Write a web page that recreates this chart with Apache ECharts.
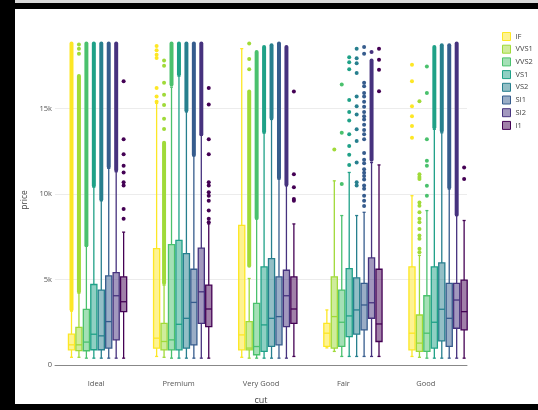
<!DOCTYPE html>
<html><head><meta charset="utf-8">
<script src="https://cdn.jsdelivr.net/npm/echarts@6/dist/echarts.min.js"></script>
<style>html,body{margin:0;padding:0;background:#fff}#c{width:538px;height:410px}</style>
</head><body><div id="c"></div>
<script>
const cuts = ['Ideal', 'Premium', 'Very Good', 'Fair', 'Good'];
const clarities = ['IF', 'VVS1', 'VVS2', 'VS1', 'VS2', 'SI1', 'SI2', 'I1'];
const colors = ['#fde725', '#a0da39', '#4ac16d', '#1fa187', '#277f8e', '#365c8d', '#46327e', '#440154'];
const yTicks = [0, 5000, 10000, 15000];

// box stats per clarity, rows in cut order: [lower whisker, q1, median, q3, upper whisker]
const boxIF   = [[450, 890, 1180, 1800, 3150], [500, 990, 1570, 6800, 15300], [450, 890, 1760, 8160, 18500], [1000, 1085, 1860, 2440, 3220], [500, 890, 1860, 5735, 9900]];
const boxVVS1 = [[450, 835, 1180, 2200, 4200], [450, 890, 1375, 2440, 4670], [400, 890, 990, 2540, 5060], [795, 988, 2830, 5155, 10770], [450, 795, 1280, 2925, 6410]];
const boxVVS2 = [[400, 833, 1340, 3255, 6950], [400, 890, 1470, 7035, 16250], [400, 600, 1080, 3600, 8550], [500, 1085, 2500, 4380, 8740], [400, 795, 1860, 4050, 9030]];
const boxVS1  = [[400, 891, 1800, 4709, 10400], [400, 890, 2380, 7290, 16890], [400, 795, 2345, 5735, 13560], [500, 1664, 2870, 5640, 11260], [400, 988, 2500, 5735, 13780]];
const boxVS2  = [[400, 891, 1705, 4380, 9600], [400, 988, 2730, 6510, 14800], [400, 1085, 2730, 6220, 14360], [500, 1800, 3220, 5100, 8740], [400, 1410, 3260, 5970, 13580]];
const boxSI1  = [[400, 988, 2538, 5213, 11500], [400, 1180, 3660, 5600, 12230], [400, 1180, 2830, 5155, 10870], [500, 2055, 3510, 4770, 8930], [400, 1085, 2730, 4770, 10290]];
const boxSI2  = [[400, 1473, 4050, 5407, 11300], [400, 2440, 4280, 6840, 13440], [400, 2250, 4050, 5540, 10480], [500, 2733, 3640, 6260, 11840], [400, 2150, 3800, 4770, 8740]];
const boxI1   = [[400, 3120, 3700, 5155, 7770], [400, 2249, 3275, 4670, 8250], [500, 2440, 3275, 5150, 8250], [500, 1375, 2400, 5600, 11700], [400, 2055, 3120, 4960, 8450]];

// dense runs of outliers: [cut index, from, to]
const runIF   = [[0, 3250, 18800]];
const runVVS1 = [[0, 4300, 16900], [1, 4800, 13000], [2, 5800, 16000]];
const runVVS2 = [[0, 7000, 18800], [1, 16400, 18800], [2, 8600, 18300]];
const runVS1  = [[0, 10500, 18800], [1, 17000, 18800], [2, 13650, 18600], [4, 13900, 18600]];
const runVS2  = [[0, 9700, 18800], [1, 14900, 18800], [2, 14450, 18700], [4, 13700, 18700]];
const runSI1  = [[0, 11600, 18800], [1, 12300, 18800], [2, 10950, 18800], [4, 10400, 18700]];
const runSI2  = [[0, 11400, 18800], [1, 13500, 18800], [2, 10550, 18600], [3, 12000, 17800], [4, 8800, 18800]];
const runI1   = [];

// single outliers: [cut index, price]
const dotIF   = [[1, 18650], [1, 18400], [1, 18150], [1, 17950], [1, 16200], [1, 15700], [1, 15400], [4, 17560], [4, 16590], [4, 15135], [4, 14550], [4, 13970], [4, 13290]];
const dotVVS1 = [[0, 18200], [0, 18500], [0, 18750], [1, 13800], [1, 14400], [1, 15200], [1, 15800], [1, 16500], [1, 17500], [1, 17800], [2, 18800], [2, 17900], [2, 17300], [3, 12600], [4, 15420], [4, 11160], [4, 11000], [4, 10870], [4, 9500], [4, 9320], [4, 8930], [4, 8550], [4, 8350], [4, 7960], [4, 7580], [4, 7380], [4, 6800], [4, 6600]];
const dotVVS2 = [[3, 16400], [3, 13580], [3, 10580], [4, 17460], [4, 15910], [4, 13200], [4, 11940], [4, 11650], [4, 10480], [4, 9900]];
const dotVS1  = [[3, 18000], [3, 17700], [3, 17300], [3, 15500], [3, 14800], [3, 14300], [3, 13500], [3, 12800], [3, 12300], [3, 11700]];
const dotVS2  = [[3, 18500], [3, 17940], [3, 17650], [3, 17070], [3, 15700], [3, 15130], [3, 14650], [3, 13780], [3, 13100], [3, 11840], [3, 10680], [3, 10490]];
const dotSI1  = [[3, 18600], [3, 18200], [3, 16500], [3, 16300], [3, 15900], [3, 15700], [3, 15400], [3, 15100], [3, 14800], [3, 14550], [3, 14350], [3, 14050], [3, 13750], [3, 13500], [3, 13200], [3, 12400], [3, 12000], [3, 11800], [3, 11450], [3, 11250], [3, 11050], [3, 10850], [3, 10500], [3, 10300], [3, 9900], [3, 9600], [3, 9300]];
const dotSI2  = [[3, 18300]];
const dotI1   = [[0, 16590], [0, 13200], [0, 12325], [0, 11650], [0, 11260], [0, 10680], [0, 10490], [0, 9130], [0, 8550], [1, 16200], [1, 15230], [1, 13200], [1, 12330], [1, 10680], [1, 10490], [1, 10100], [1, 9900], [1, 9610], [1, 9030], [1, 8550], [1, 8350], [2, 16000], [2, 11160], [2, 10390], [2, 9710], [2, 9610], [3, 18500], [3, 17850], [3, 17270], [3, 16010], [4, 11550], [4, 10870]];

const boxes = [boxIF, boxVVS1, boxVVS2, boxVS1, boxVS2, boxSI1, boxSI2, boxI1];
const runs = [runIF, runVVS1, runVVS2, runVS1, runVS2, runSI1, runSI2, runI1];
const dots = [dotIF, dotVVS1, dotVVS2, dotVS1, dotVS2, dotSI1, dotSI2, dotI1];

function rgba(hex, a) {
  const n = parseInt(hex.slice(1), 16);
  return 'rgba(' + (n >> 16) + ',' + ((n >> 8) & 255) + ',' + (n & 255) + ',' + a + ')';
}
const NS = clarities.length;
// boxes sit on a hidden numeric x axis (one unit per cut), as the groups in the reference are spaced slightly wider than the category labels
function slotX(api, cat, k) {
  const unit = api.size([1, 0])[0];
  const slot = unit * 0.7 / NS;
  return { cx: api.coord([cat, 0])[0] + (k - (NS - 1) / 2) * slot, w: slot * 0.82 };
}
const R = 2;

const series = [];
clarities.forEach((name, k) => {
  const col = colors[k];
  series.push({
    type: 'custom', name: name, xAxisIndex: 1,
    data: boxes[k].map((r, i) => [i].concat(r)),
    encode: { x: 0, y: [1, 2, 3, 4, 5] },
    renderItem: function (params, api) {
      const cat = api.value(0);
      const p = slotX(api, cat, k);
      const cx = p.cx, w = p.w;
      const y = [1, 2, 3, 4, 5].map(d => api.coord([cat, api.value(d)])[1]);
      const ls = { stroke: col, lineWidth: 1.3 };
      return { type: 'group', children: [
        { type: 'line', shape: { x1: cx, y1: y[4], x2: cx, y2: y[3] }, style: ls },
        { type: 'line', shape: { x1: cx, y1: y[0], x2: cx, y2: y[1] }, style: ls },
        { type: 'line', shape: { x1: cx - w / 4, y1: y[4], x2: cx + w / 4, y2: y[4] }, style: ls },
        { type: 'line', shape: { x1: cx - w / 4, y1: y[0], x2: cx + w / 4, y2: y[0] }, style: ls },
        { type: 'rect', shape: { x: cx - w / 2, y: y[3], width: w, height: y[1] - y[3] }, style: { fill: rgba(col, 0.5), stroke: col, lineWidth: 1.3 } },
        { type: 'line', shape: { x1: cx - w / 2, y1: y[2], x2: cx + w / 2, y2: y[2] }, style: ls }
      ] };
    }
  });
  series.push({
    type: 'custom', name: name, xAxisIndex: 1,
    data: runs[k],
    encode: { x: 0, y: [1, 2] },
    renderItem: function (params, api) {
      const cat = api.value(0);
      const p = slotX(api, cat, k);
      const y1 = api.coord([cat, api.value(2)])[1];
      const y0 = api.coord([cat, api.value(1)])[1];
      return { type: 'rect', shape: { x: p.cx - R, y: y1 - R, width: 2 * R, height: y0 - y1 + 2 * R, r: R }, style: { fill: col } };
    }
  });
  series.push({
    type: 'custom', name: name, xAxisIndex: 1,
    data: dots[k],
    encode: { x: 0, y: 1 },
    renderItem: function (params, api) {
      const cat = api.value(0);
      const p = slotX(api, cat, k);
      const yy = api.coord([cat, api.value(1)])[1];
      return { type: 'circle', shape: { cx: p.cx, cy: yy, r: R }, style: { fill: col } };
    }
  });
});

const chart = echarts.init(document.getElementById('c'), null, { renderer: 'canvas' });
chart.setOption({
  animation: false,
  backgroundColor: '#fff',
  textStyle: { fontFamily: 'Open Sans' },
  graphic: [
    { type: 'rect', shape: { x: 0, y: 0, width: 538, height: 3 }, style: { fill: '#d9d9d9' }, z: 100 },
    { type: 'rect', shape: { x: 0, y: 3, width: 538, height: 6 }, style: { fill: '#000' }, z: 100 },
    { type: 'rect', shape: { x: 0, y: 0, width: 15, height: 410 }, style: { fill: '#000' }, z: 100 },
    { type: 'rect', shape: { x: 0, y: 404, width: 538, height: 6 }, style: { fill: '#000' }, z: 100 }
  ],
  grid: { left: 55, right: 71, top: 23, bottom: 43 },
  legend: {
    orient: 'vertical', left: 497, top: 27,
    itemWidth: 8, itemHeight: 8, itemGap: 3.7,
    textStyle: { fontSize: 7.5, color: '#444', lineHeight: 9, fontFamily: 'Open Sans' },
    data: clarities.map((n, k) => ({ name: n, icon: 'rect', itemStyle: { color: rgba(colors[k], 0.5), borderColor: colors[k], borderWidth: 1 } }))
  },
  xAxis: [{
    type: 'category', data: cuts,
    name: 'cut', nameLocation: 'middle', nameGap: 31,
    nameTextStyle: { fontSize: 9, color: '#444', fontFamily: 'Open Sans' },
    axisLine: { show: true, lineStyle: { color: '#888', width: 1 } },
    axisTick: { show: false },
    axisLabel: { fontSize: 7.5, color: '#555', margin: 15, fontFamily: 'Open Sans' },
    splitLine: { show: false }
  }, {
    type: 'value', min: -0.5, max: 4.34, show: false,
    splitLine: { show: false }
  }],
  yAxis: {
    type: 'value', min: 0, max: 20000, interval: 5000,
    name: 'price', nameLocation: 'middle', nameGap: 23,
    nameTextStyle: { fontSize: 8.5, color: '#444', fontFamily: 'Open Sans', padding: [0, 12, 0, 0] },
    axisLine: { show: false }, axisTick: { show: false },
    axisLabel: { fontSize: 7.5, color: '#555', margin: 3, fontFamily: 'Open Sans',
      formatter: v => yTicks.indexOf(v) < 0 ? '' : (v === 0 ? '0' : (v / 1000) + 'k') },
    splitLine: { show: true, showMinLine: false, showMaxLine: false, lineStyle: { color: '#ececec', width: 1 } }
  },
  series: series
});
</script></body></html>
